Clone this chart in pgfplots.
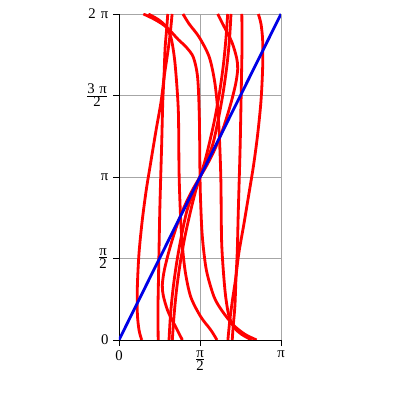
\documentclass[border=0pt]{standalone}
\usepackage{pgfplots}
\pgfplotsset{compat=1.18}
\usepackage{fontspec}
\setmainfont{Liberation Serif}
\definecolor{mred}{RGB}{255,0,0}
\definecolor{mblue}{RGB}{0,0,230}

\pgfplotsset{rc/.style={mred, line width=2pt, smooth, tension=0.5}}

\begin{document}
\begin{tikzpicture}
\begin{axis}[
    scale only axis,
    width=4.05cm, height=8.15cm,
    xmin=0, xmax=pi, ymin=0, ymax=2*pi,
    axis x line=bottom, axis y line=left,
    axis line style={-, black, line width=0.6pt},
    xtick={0,pi/2,pi}, xticklabels={0, $\frac{\mbox{π}}{\mbox{2}}$, π},
    ytick={0,pi/2,pi,3*pi/2,2*pi},
    yticklabels={0, $\frac{\mbox{π}}{\mbox{2}}$, π, $\frac{\mbox{3\hspace{0.3em}π}}{\mbox{2}}$, 2\hspace{0.35em}π},
    ticklabel style={font=\fontsize{10.5}{12}\selectfont},
    tick style={black, line width=0.5pt},
    tick align=outside, major tick length=4pt,
    grid=major, grid style={gray!70, line width=0.5pt},
    clip=true,
]
% left curves
\addplot[rc] coordinates {(0.440,0) (0.388,0.193) (0.356,0.514) (0.356,1.028) (0.388,1.671) (0.452,2.313) (0.530,2.900) (0.620,3.450) (0.720,4.050) (0.816,4.595) (0.881,5.110) (0.939,5.497) (0.991,5.884) (1.030,6.283)};
\addplot[rc] coordinates {(0.946,6.283) (0.926,6.012) (0.894,5.626) (0.874,5.110) (0.849,4.595) (0.829,3.821) (0.810,3.177) (0.792,2.533) (0.779,1.888) (0.767,1.244) (0.756,0.599) (0.760,0)};
% right curves
\addplot[rc] coordinates {(2.702,6.283) (2.754,6.090) (2.786,5.769) (2.786,5.255) (2.754,4.612) (2.690,3.970) (2.612,3.383) (2.522,2.833) (2.422,2.233) (2.326,1.688) (2.261,1.173) (2.203,0.786) (2.151,0.399) (2.112,0)};
\addplot[rc] coordinates {(2.196,0) (2.215,0.271) (2.248,0.657) (2.268,1.173) (2.293,1.688) (2.313,2.462) (2.332,3.106) (2.350,3.750) (2.363,4.395) (2.375,5.039) (2.386,5.684) (2.382,6.283)};
% through the centre
\addplot[rc] coordinates {(0.473,6.283) (0.700,6.174) (0.926,6.025) (1.153,5.787) (1.300,5.648) (1.442,5.448) (1.525,5.057) (1.558,4.291) (1.571,3.142) (1.584,2.635) (1.616,1.992) (1.694,1.349) (1.842,0.835) (2.000,0.560) (2.215,0.290) (2.442,0.109) (2.669,0)};
\addplot[rc] coordinates {(0.570,6.283) (0.764,6.174) (0.907,6.045) (1.010,5.819) (1.075,5.433) (1.121,4.917) (1.153,4.337) (1.164,3.277) (1.183,2.635) (1.215,1.992) (1.280,1.349) (1.390,0.835) (1.584,0.450) (1.780,0.193) (1.900,0)};
\addplot[rc] coordinates {(2.572,0) (2.377,0.109) (2.235,0.238) (2.132,0.464) (2.067,0.850) (2.021,1.366) (1.989,1.946) (1.977,3.006) (1.958,3.648) (1.926,4.291) (1.862,4.935) (1.752,5.448) (1.557,5.833) (1.361,6.090) (1.241,6.283)};
% bundle near the diagonal
\addplot[rc] coordinates {(0.970,0) (1.000,0.5) (1.050,1.0) (1.120,1.5) (1.210,2.0) (1.320,2.5) (1.450,2.85) (1.571,3.1416) (1.692,3.433) (1.822,3.783) (1.932,4.283) (2.022,4.783) (2.092,5.283) (2.142,5.783) (2.172,6.283)};
\addplot[rc] coordinates {(1.034,0) (1.070,0.5) (1.120,1.0) (1.190,1.5) (1.280,2.0) (1.380,2.45) (1.480,2.85) (1.571,3.1416) (1.662,3.433) (1.762,3.833) (1.862,4.283) (1.952,4.783) (2.022,5.283) (2.072,5.783) (2.108,6.283)};
\addplot[rc] coordinates {(1.228,0) (1.100,0.25) (0.950,0.55) (0.860,0.85) (0.840,1.06) (0.880,1.35) (0.980,1.75) (1.120,2.2) (1.280,2.6) (1.430,2.9) (1.571,3.1416) (1.712,3.383) (1.862,3.683) (2.022,4.083) (2.162,4.533) (2.262,4.933) (2.302,5.223) (2.282,5.433) (2.192,5.733) (2.042,6.033) (1.914,6.283)};
% blue line
\addplot[mblue, line width=2pt] coordinates {(0,0) (3.1416,6.2832)};
\coordinate (bl) at (rel axis cs:-0.7346,-0.184);
\coordinate (tr) at (rel axis cs:1.7346,1.0429);
\end{axis}
\path (bl) rectangle (tr);
\end{tikzpicture}
\end{document}
